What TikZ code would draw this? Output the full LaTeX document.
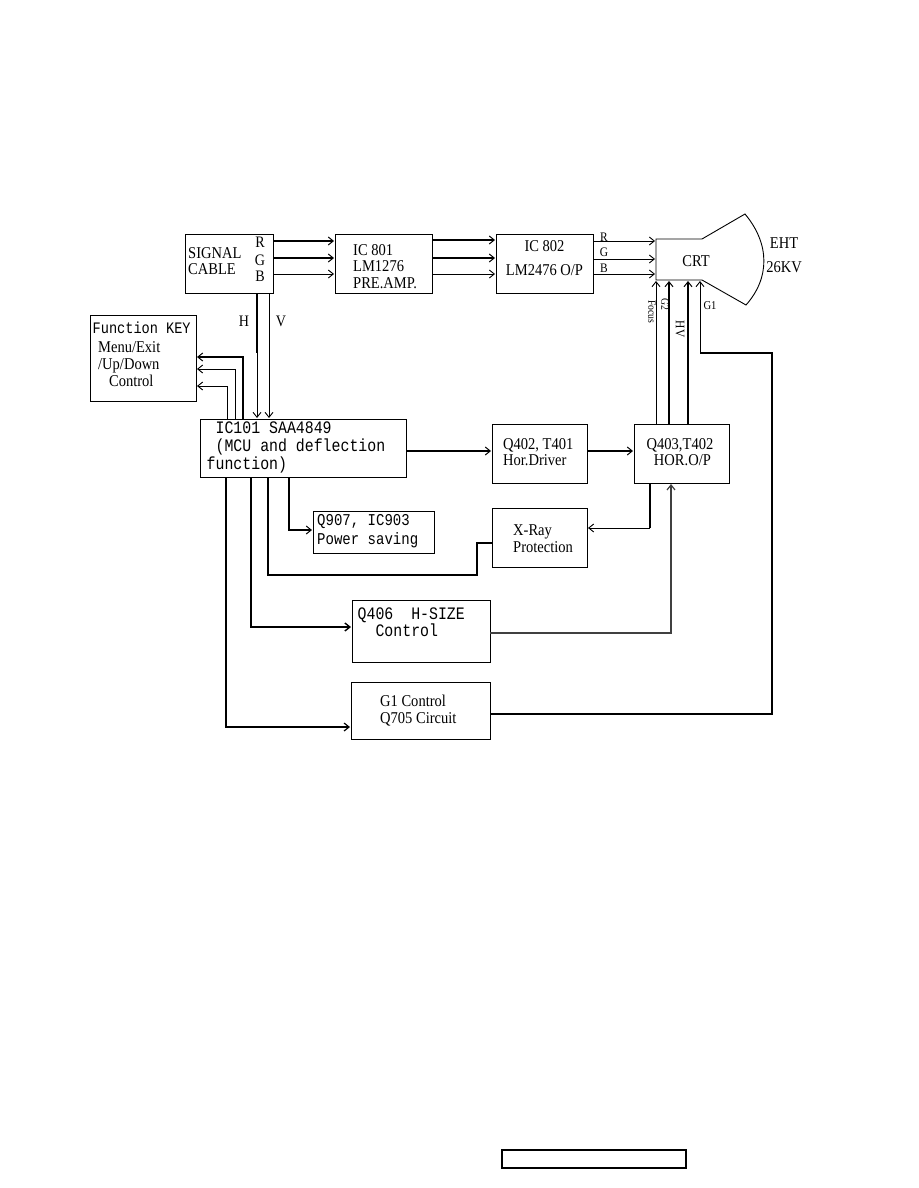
\documentclass[tikz,border=0pt]{standalone}
\usepackage{fontspec}
\setmainfont{Liberation Serif}[FakeStretch=0.88]
\newfontfamily\monof{Liberation Mono}[FakeStretch=0.85]
\usetikzlibrary{arrows.meta}
\begin{document}
\begin{tikzpicture}[x=1pt,y=-1pt,
  blk/.style={draw,line width=0.9pt,inner sep=0pt},
  txt/.style={font=\fontsize{16.5}{16.5}\selectfont,align=center,inner sep=0pt},
  mtxt/.style={align=left,inner sep=0pt},
  thin/.style={line width=0.9pt,-{Straight Barb[length=5pt,width=8pt]}},
  thick/.style={line width=2.2pt,-{Straight Barb[length=5pt,width=8pt,line width=1pt]}},
  plain/.style={line width=1pt},
  plainthick/.style={line width=2.2pt},
  lbl/.style={font=\fontsize{16}{16}\selectfont,inner sep=0pt},
  small/.style={font=\fontsize{11}{11}\selectfont,inner sep=0pt}]
\useasboundingbox (0,0) rectangle (918,1188);

% boxes
\draw[blk] (185,234) rectangle (273,293);
\node[txt,align=left,anchor=west] (sigt) at (188,261) {SIGNAL\\CABLE};
\node[lbl] (lr1) at (260,242) {R};
\node[lbl] (lg1) at (260,260) {G};
\node[lbl] (lb1) at (260,276) {B};

\draw[blk] (335,234) rectangle (432,293);
\node[txt,align=left,anchor=west,font=\fontsize{16.5}{16.5}\selectfont] (ic801) at (353,266.5) {IC 801\\LM1276\\PRE.AMP.};

\draw[blk] (496,234) rectangle (593,293);
\node[txt,font=\fontsize{16.5}{24}\selectfont] (ic802) at (544.5,258) {IC 802\\LM2476 O/P};
\node[font=\fontsize{13}{13}\selectfont,inner sep=0pt] (lr2) at (604,237) {R};
\node[font=\fontsize{13}{13}\selectfont,inner sep=0pt] (lg2) at (604,252.5) {G};
\node[font=\fontsize{13}{13}\selectfont,inner sep=0pt] (lb2) at (604,268.5) {B};

% CRT
\draw[line width=0.9pt] (656,239) -- (702,239) -- (745,214)
  .. controls (770,244) and (770,278) .. (746,305) -- (702,280) -- (656,280) -- cycle;
\node[txt] (crt) at (696,261) {CRT};
\node[txt] (eht) at (784,243) {EHT};
\node[txt] (kv) at (784,267) {26KV};

\draw[blk] (90,315) rectangle (196,401);
\node[mtxt,font=\monof\fontsize{16}{16}\selectfont,anchor=west] (fk) at (92.5,328) {Function KEY};
\node[txt,align=left,anchor=north west,font=\fontsize{16.5}{17}\selectfont] (fk2) at (98,341) {Menu/Exit\\/Up/Down\\\ \ \ Control};

\draw[blk] (200,419) rectangle (406,477);
\node[mtxt,anchor=west,font=\monof\fontsize{17.5}{18}\selectfont] (mcu) at (206.5,447) {\ IC101 SAA4849\\\ (MCU and deflection\\function)};

\draw[blk] (492,424) rectangle (587,483);
\node[txt,align=left,anchor=west] (hd) at (503,452) {Q402, T401\\Hor.Driver};

\draw[blk] (634,424) rectangle (729,483);
\node[txt,align=left] (ho) at (680,452) {Q403,T402\\\ \ HOR.O/P};

\draw[blk] (492,508) rectangle (587,567);
\node[txt,align=left,anchor=west] (xr) at (513,538.5) {X-Ray\\Protection};

\draw[blk] (313,511) rectangle (434,553);
\node[mtxt,anchor=west,font=\monof\fontsize{16.5}{19}\selectfont] (ps) at (317,531.5) {Q907, IC903\\Power saving};

\draw[blk] (352,600) rectangle (490,662);
\node[mtxt,anchor=west,font=\monof\fontsize{17.5}{17}\selectfont] (hs) at (357.5,622.5) {Q406\ \ H-SIZE\\\ \ Control};

\draw[blk] (351,682) rectangle (490,739);
\node[txt,align=left,anchor=west] (g1c) at (380,710.5) {G1 Control\\Q705 Circuit};

\draw[line width=1.6pt] (502,1150) rectangle (686,1168);

% RGB arrows
\draw[thick] (273,241) -- (334,241);
\draw[thick] (273,258) -- (334,258);
\draw[thin] (273,274) -- (334,274);
\draw[thick] (432,240) -- (495,240);
\draw[thick] (432,258) -- (495,258);
\draw[thin] (432,274) -- (495,274);
\draw[thin] (593,241) -- (655,241);
\draw[thin] (593,259) -- (655,259);
\draw[thin] (593,274) -- (655,274);

% H / V
\draw[plainthick] (257,293) -- (257,353);
\draw[thin] (257,353) -- (257,418);
\draw[thin] (269,293) -- (269,418);
\node[lbl] (hl) at (244,321) {H};
\node[lbl] (vl) at (281,321) {V};

% to function key
\draw[thick] (243,419) -- (243,357) -- (197,357);
\draw[thin] (235,419) -- (235,369) -- (197,369);
\draw[thin] (227,419) -- (227,386) -- (197,386);

% main horizontal chain
\draw[thick] (406,451) -- (491,451);
\draw[thick] (587,451) -- (633,451);

% to CRT
\draw[thin] (656,424) -- (656,281);
\draw[thick] (669,424) -- (669,281);
\draw[thick] (688,424) -- (688,281);
\node[small,rotate=-90] (foc) at (652,312) {Focus};
\node[small,rotate=-90] (g2) at (665,304) {G2};
\node[font=\fontsize{13}{13}\selectfont,inner sep=0pt,rotate=-90] (hv) at (680,329) {HV};
\node[font=\fontsize{12}{12}\selectfont,inner sep=0pt] (g1l) at (710,306) {G1};

% X-Ray feedback
\draw[line width=1.8pt] (650,483) -- (650,528);
\draw[thin] (650,528) -- (588,528);

% IC101 bottom branches
\draw[thick] (289,477) -- (289,530) -- (312,530);
\draw[plainthick] (268,477) -- (268,575) -- (477,575) -- (477,543) -- (492,543);
\draw[thin,line width=1.4pt] (251,477) -- (251,627) -- (351,627);
\draw[plainthick] (226,477) -- (226,727) -- (272,727);
\draw[thin,line width=1.2pt] (272,727) -- (350,727);

% H-SIZE to HOR O/P
\draw[thin,line width=1.2pt,draw=black!75] (490,633) -- (671,633) -- (671,484);

% G1 control to CRT
\draw[plain,line width=1.3pt] (490,714) -- (772,714) -- (772,353) -- (700,353);
\draw[thin] (700,353) -- (700,281);
\end{tikzpicture}
\end{document}
